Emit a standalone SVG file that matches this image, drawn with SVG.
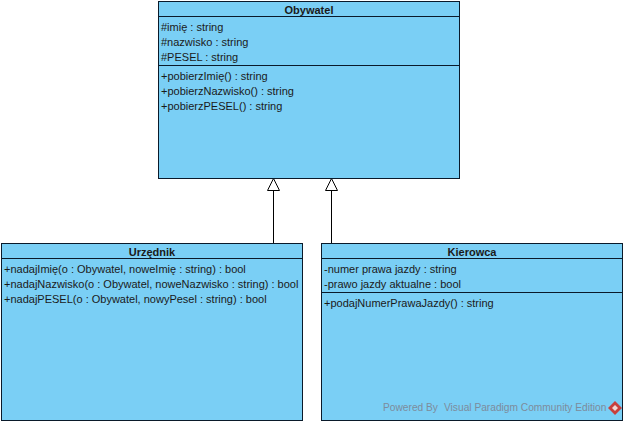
<svg xmlns="http://www.w3.org/2000/svg" width="627" height="424" viewBox="0 0 627 424">
<style>
.b{fill:#7acff5;stroke:#0a1a2a;stroke-width:1}
.l{stroke:#0a1a2a;stroke-width:1;fill:none}
text{font-family:"Liberation Sans",Arial,sans-serif;font-size:11px;fill:#1a1a1a}
.t{font-weight:bold;text-anchor:middle}
.c{stroke:#000;stroke-width:1;fill:none}
.a{stroke:#000;stroke-width:1;fill:#fff}
.w{font-size:10.2px;fill:#7d8c9c}
</style>
<rect width="627" height="424" fill="#fff"/>
<g id="connectors">
<line class="c" x1="273.5" y1="190" x2="273.5" y2="243"/>
<polygon class="a" points="273.5,178.500 267.500,190.500 279.500,190.500"/>
<line class="c" x1="331.5" y1="190" x2="331.5" y2="243"/>
<polygon class="a" points="331.500,178.500 325.500,190.500 337.500,190.500"/>
</g>
<g id="obywatel">
<rect class="b" x="158.500" y="1.500" width="301" height="177"/>
<line class="l" x1="158.500" y1="16.500" x2="459.500" y2="16.500"/>
<line class="l" x1="158.500" y1="65.500" x2="459.500" y2="65.500"/>
<text class="t" x="309" y="14">Obywatel</text>
<text x="161" y="31">#imię : string</text>
<text x="161" y="46">#nazwisko : string</text>
<text x="161" y="61">#PESEL : string</text>
<text x="161" y="80">+pobierzImię() : string</text>
<text x="161" y="95">+pobierzNazwisko() : string</text>
<text x="161" y="110">+pobierzPESEL() : string</text>
</g>
<g id="urzednik">
<rect class="b" x="1.500" y="243.500" width="301" height="177"/>
<line class="l" x1="1.500" y1="258.500" x2="302.500" y2="258.500"/>
<text class="t" x="152" y="256">Urzędnik</text>
<text x="4" y="273">+nadajImię(o : Obywatel, noweImię : string) : bool</text>
<text x="4" y="288">+nadajNazwisko(o : Obywatel, noweNazwisko : string) : bool</text>
<text x="4" y="303">+nadajPESEL(o : Obywatel, nowyPesel : string) : bool</text>
</g>
<g id="kierowca">
<rect class="b" x="321.500" y="243.500" width="301" height="177"/>
<line class="l" x1="321.500" y1="258.500" x2="622.500" y2="258.500"/>
<line class="l" x1="321.500" y1="292.500" x2="622.500" y2="292.500"/>
<text class="t" x="472" y="256">Kierowca</text>
<text x="324" y="273">-numer prawa jazdy : string</text>
<text x="324" y="288">-prawo jazdy aktualne : bool</text>
<text x="324" y="307">+podajNumerPrawaJazdy() : string</text>
</g>
<g id="watermark">
<text class="w" x="383" y="411">Powered By</text>
<text class="w" x="444" y="411">Visual Paradigm Community Edition</text>
<polygon points="615,401 622,408 615,415 608,408" fill="#c8403c"/>
<polygon points="615,405 618,408 615,411 612,408" fill="#f2d8d4"/>
</g>
</svg>
